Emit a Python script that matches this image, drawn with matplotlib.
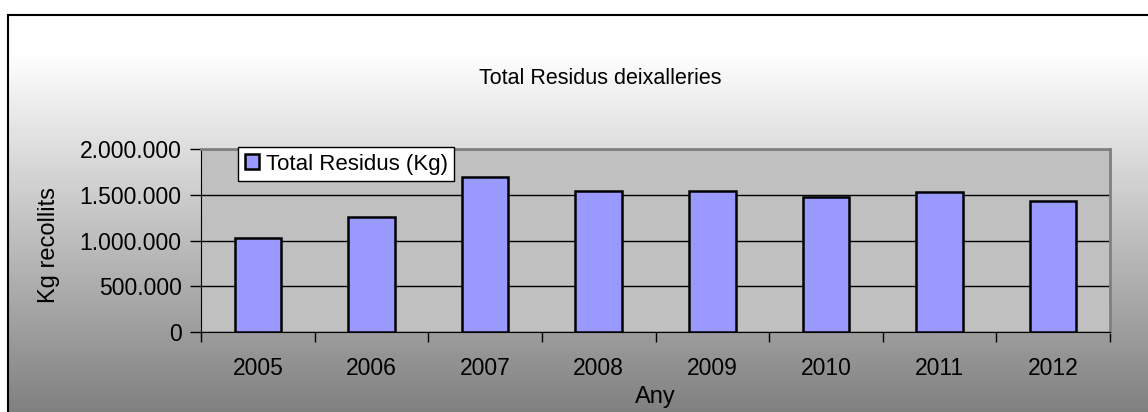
import numpy as np
import matplotlib
matplotlib.use('Agg')
import matplotlib.pyplot as plt
from matplotlib.ticker import FuncFormatter, FixedLocator

years = ['2005', '2006', '2007', '2008', '2009', '2010', '2011', '2012']
residus = [1024000, 1253000, 1697000, 1538000, 1541000, 1479000, 1533000, 1435000]

plt.rcParams['font.family'] = ['Liberation Sans', 'DejaVu Sans']

W, H = 1148, 412
fig = plt.figure(figsize=(W / 100, H / 100), dpi=100, facecolor='white')

# gradient background of the chart area (white at top, grey at bottom)
bg = fig.add_axes([8 / W, 0, 1 - 8 / W, (H - 15) / H], zorder=0)
rows = np.arange(15, H)
shade = np.where(rows < 50, 255, 255 - (rows - 50) * (127 / (H - 50)))
grad = np.repeat((shade / 255)[:, None], 2, axis=1)
bg.imshow(grad, cmap='gray', vmin=0, vmax=1, aspect='auto', extent=[0, 1, 0, 1])
bg.set_xticks([])
bg.set_yticks([])
for s in ['right', 'bottom']:
    bg.spines[s].set_visible(False)
bg.spines['left'].set_linewidth(1.5)
bg.spines['top'].set_linewidth(1.5)

ax = fig.add_axes([201 / W, (H - 332) / H, 909 / W, 183 / H], zorder=2)
ax.set_facecolor('#C0C0C0')
x = np.arange(len(years))
ax.bar(x, residus, width=0.41, color='#9999FF', edgecolor='black', linewidth=1.8,
       label='Total Residus (Kg)', zorder=3)

ax.set_ylim(0, 2000000)
ax.set_yticks([0, 500000, 1000000, 1500000, 2000000])
ax.yaxis.set_major_formatter(FuncFormatter(lambda v, p: f'{int(v):,}'.replace(',', '.')))
ax.grid(axis='y', color='black', linewidth=1, zorder=1)
ax.set_axisbelow(True)

ax.set_xlim(-0.5, len(years) - 0.5)
ax.xaxis.set_major_locator(FixedLocator(np.arange(-0.5, len(years), 1.0)))
ax.xaxis.set_minor_locator(FixedLocator(x))
ax.set_xticklabels([], minor=False)
ax.set_xticklabels(years, minor=True)
ax.tick_params(axis='x', which='major', length=7, width=1, color='black', direction='out')
ax.tick_params(axis='x', which='minor', length=0, pad=18, labelsize=16.5)
ax.tick_params(axis='y', length=8, width=1, direction='out', pad=6, labelsize=16.5)

for s in ['top', 'right']:
    ax.spines[s].set_color('#808080')
    ax.spines[s].set_linewidth(2)
ax.spines['left'].set_color('black')
ax.spines['bottom'].set_color('black')

fig.text(655 / W, 1 - 397 / H, 'Any', ha='center', va='center', fontsize=17)
fig.text(49 / W, 1 - 245 / H, 'Kg recollits', ha='center', va='center', rotation=90, fontsize=17)
fig.text(600 / W, 1 - 78 / H, 'Total Residus deixalleries', ha='center', va='center', fontsize=15.5)

leg = ax.legend(loc='upper left', bbox_to_anchor=(238 / W, 1 - 147 / H),
                bbox_transform=fig.transFigure, borderaxespad=0, fontsize=16,
                fancybox=False, framealpha=1, edgecolor='black',
                handlelength=0.65, handleheight=0.65, handletextpad=0.3,
                borderpad=0.3)
leg.get_frame().set_linewidth(1)

fig.savefig('out.png', dpi=100, facecolor='white')
